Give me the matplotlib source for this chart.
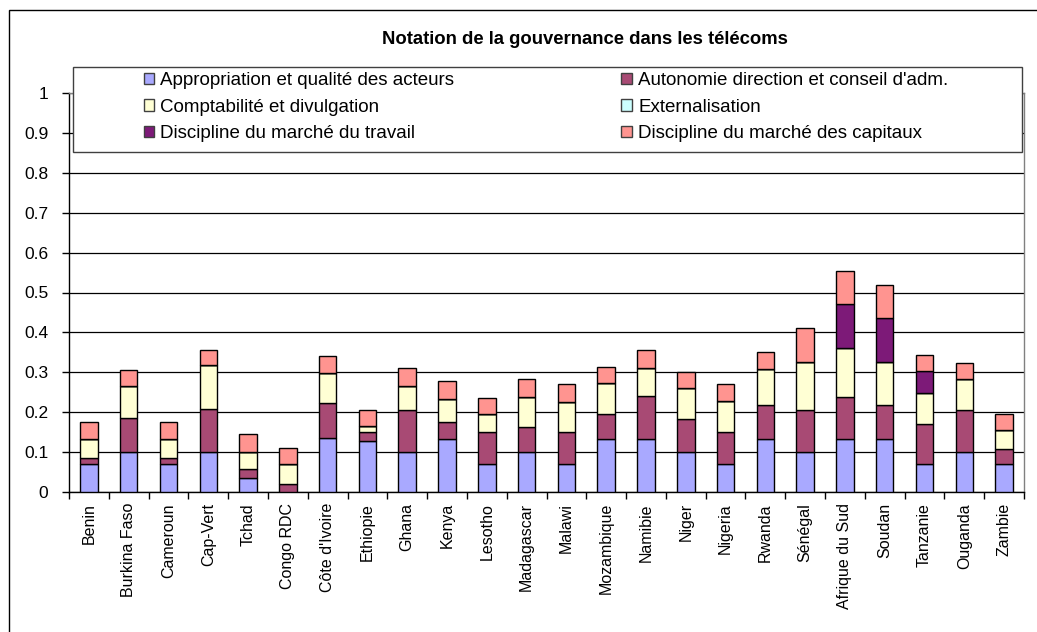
import numpy as np
import matplotlib
matplotlib.use("Agg")
import matplotlib.pyplot as plt
from matplotlib.patches import Rectangle, Patch

plt.rcParams['font.family'] = ['Liberation Sans', 'DejaVu Sans']

# pays
pays = ['Benin', 'Burkina Faso', 'Cameroun', 'Cap-Vert', 'Tchad', 'Congo RDC',
        "Côte d'Ivoire", 'Ethiopie', 'Ghana', 'Kenya', 'Lesotho', 'Madagascar',
        'Malawi', 'Mozambique', 'Namibie', 'Niger', 'Nigeria', 'Rwanda',
        'Sénégal', 'Afrique du Sud', 'Soudan', 'Tanzanie', 'Ouganda', 'Zambie']

# valeurs (segments empilés)
appropriation = [0.069, 0.100, 0.069, 0.100, 0.034, 0.000, 0.135, 0.127, 0.100, 0.133,
                 0.069, 0.100, 0.069, 0.133, 0.133, 0.100, 0.069, 0.133, 0.100, 0.133,
                 0.133, 0.069, 0.100, 0.069]
autonomie = [0.015, 0.086, 0.015, 0.109, 0.023, 0.021, 0.088, 0.023, 0.105, 0.042,
             0.081, 0.062, 0.081, 0.063, 0.107, 0.083, 0.081, 0.086, 0.105, 0.106,
             0.086, 0.102, 0.105, 0.039]
comptabilite = [0.049, 0.080, 0.049, 0.109, 0.043, 0.049, 0.074, 0.016, 0.061, 0.059,
                0.046, 0.077, 0.076, 0.077, 0.072, 0.078, 0.077, 0.089, 0.120, 0.121,
                0.106, 0.076, 0.079, 0.047]
externalisation = [0.0] * 24
discipline_travail = [0, 0, 0, 0, 0, 0, 0, 0, 0, 0, 0, 0, 0, 0, 0, 0, 0, 0, 0, 0.112,
                      0.112, 0.057, 0, 0]
discipline_capitaux = [0.043, 0.039, 0.043, 0.039, 0.045, 0.040, 0.045, 0.039, 0.044, 0.044,
                       0.039, 0.045, 0.044, 0.040, 0.045, 0.039, 0.043, 0.042, 0.085, 0.081,
                       0.082, 0.039, 0.039, 0.041]

series = [
    ('Appropriation et qualité des acteurs', appropriation, '#a9a9ff'),
    ("Autonomie direction et conseil d'adm.", autonomie, '#a84a74'),
    ('Comptabilité et divulgation', comptabilite, '#ffffd4'),
    ('Externalisation', externalisation, '#ccffff'),
    ('Discipline du marché du travail', discipline_travail, '#7d1a78'),
    ('Discipline du marché des capitaux', discipline_capitaux, '#ff9490'),
]

W, H = 1037, 632
fig = plt.figure(figsize=(W / 100, H / 100), dpi=100)
ax = fig.add_axes([69 / W, 140 / H, (1024 - 69) / W, (492 - 93) / H])

x = np.arange(len(pays))
bottom = np.zeros(len(pays))
handles = {}
for nom, vals, col in series:
    vals = np.array(vals, dtype=float)
    ax.bar(x, vals, 0.44, bottom=bottom, color=col, edgecolor='black', linewidth=1, zorder=3)
    handles[nom] = Patch(facecolor=col, edgecolor='#404040', linewidth=1)
    bottom += vals

ax.set_xlim(-0.5, len(pays) - 0.5)
ax.set_ylim(0, 1)
ax.set_yticks(np.arange(0, 1.01, 0.1))
ax.set_yticklabels(['0', '0.1', '0.2', '0.3', '0.4', '0.5', '0.6', '0.7', '0.8', '0.9', '1'])
ax.yaxis.grid(True, color='black', linewidth=0.9, zorder=0)
ax.set_axisbelow(True)

ax.set_xticks(x)
ax.set_xticklabels(pays, rotation=90, fontsize=11.5)
ax.set_xticks(np.arange(-0.5, len(pays)), minor=True)
ax.tick_params(axis='x', which='major', length=0, pad=8)
ax.tick_params(axis='x', which='minor', length=5, direction='out', width=1)
ax.tick_params(axis='y', length=5, direction='out', labelsize=12.5, pad=10, width=1)

for s in ['top', 'right']:
    ax.spines[s].set_color('#808080')
    ax.spines[s].set_linewidth(1)
for s in ['left', 'bottom']:
    ax.spines[s].set_color('black')
    ax.spines[s].set_linewidth(1)

# titre
fig.text(585 / W, 1 - 40 / H, 'Notation de la gouvernance dans les télécoms',
         ha='center', va='center', fontsize=13.3, fontweight='bold')

# légende (ordre colonne par colonne)
ordre = ['Appropriation et qualité des acteurs', 'Comptabilité et divulgation',
         'Discipline du marché du travail', "Autonomie direction et conseil d'adm.",
         'Externalisation', 'Discipline du marché des capitaux']
leg = fig.legend([handles[n] for n in ordre], ordre, ncol=2, frameon=False,
                 loc='center', bbox_to_anchor=(546 / W, 1 - 107 / H),
                 fontsize=13.5, handlelength=0.55, handleheight=0.55, handletextpad=0.35,
                 columnspacing=8.9, labelspacing=0.5)
fig.add_artist(Rectangle((73 / W, 1 - 152 / H), (1022 - 73) / W, 85 / H,
                         transform=fig.transFigure, fill=True, facecolor='white',
                         edgecolor='#404040', linewidth=1, zorder=2))
leg.set_zorder(3)

# bordure de la zone du graphique
fig.add_artist(Rectangle((9 / W, -0.1), 1.2, 1.1 - 10 / H, transform=fig.transFigure,
                         fill=False, edgecolor='black', linewidth=1))

fig.savefig('out.png', dpi=100)
